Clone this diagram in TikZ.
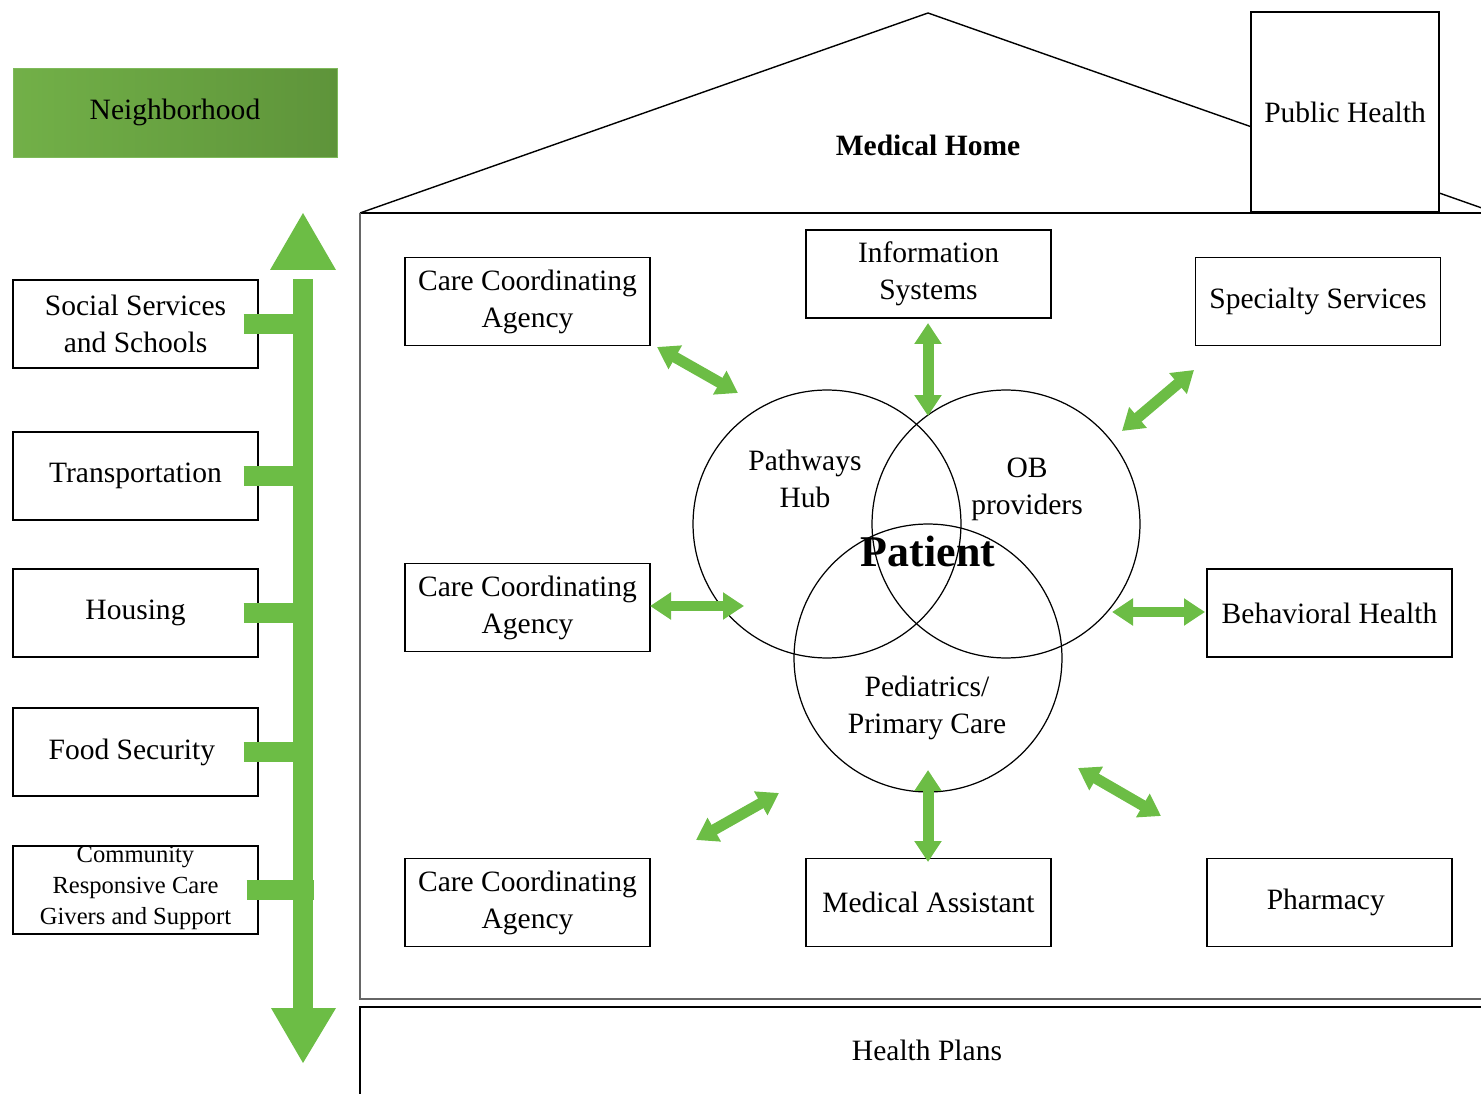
\documentclass[tikz,border=0pt]{standalone}
\usepackage{fontspec}
\setmainfont{Liberation Serif}
\usetikzlibrary{arrows.meta}
\begin{document}
\begin{tikzpicture}[x=0.02cm, y=-0.02cm, font=\fontsize{16.8}{21}\selectfont,
    box/.style={draw, fill=white, line width=0.8pt, minimum width=4.9cm, minimum height=1.76cm, align=center, inner sep=0pt},
    ring/.style={draw, circle, line width=0.7pt, minimum size=5.36cm, inner sep=0pt},
    biarrow/.style={draw=arrowgreen, line width=0.22cm, {Triangle[length=0.42cm,width=0.52cm]}-{Triangle[length=0.42cm,width=0.52cm]}}]
    \definecolor{arrowgreen}{RGB}{108,189,69}
    \definecolor{nbgreenlight}{RGB}{114,176,72}
    \definecolor{nbgreendark}{RGB}{94,148,58}
    \definecolor{nbgreenedge}{RGB}{126,186,90}

    \useasboundingbox (0,0) rectangle (1481,1094);
    \clip (0,0) rectangle (1481,1094);

    % house outline
    \draw[line width=0.8pt] (360,213) -- (928,13) -- (1496,213);
    \draw[line width=0.8pt] (1500,213) -- (360,213);
    \draw[gray!80!black, line width=1.3pt] (360,213) -- (360,999) -- (1500,999);
    \draw[line width=0.8pt] (360,1100) -- (360,1007) -- (1500,1007);

    \node[font=\fontsize{16.8}{21}\selectfont\bfseries] (home) at (928,145) {Medical Home};
    \node (plans) at (927,1050) {Health Plans};
    \node[box, minimum width=3.76cm, minimum height=4cm] (pubhealth) at (1345,112) {Public Health};

    \node[draw=nbgreenedge, left color=nbgreenlight, right color=nbgreendark,
      minimum width=6.48cm, minimum height=1.78cm] (hood) at (175,112.5) {Neighborhood};

    % community column
    \foreach \n/\y/\txt in {
      social/324/{Social Services\\and Schools},
      transport/476/Transportation,
      housing/613/Housing,
      food/752/Food Security
    }{
      \node[box] (\n) at (135.5,\y) {\txt};
      \draw[arrowgreen, line width=0.4cm] ([xshift=-0.3cm]\n.east) -- ([xshift=0.7cm]\n.east);
    }
    \node[box] (community) at (135.5,890) {};
    \node[align=center, font=\fontsize{14}{17.5}\selectfont] (communitytxt) at (135.5,888)
      {Community\\Responsive Care\\Givers and Support};
    \draw[arrowgreen, line width=0.4cm] ([xshift=-0.24cm]community.east) -- ([xshift=1.1cm]community.east);

    \fill[arrowgreen] (293,279) rectangle (313,1008);
    \fill[arrowgreen] (270,270) -- (303,213) -- (336,270) -- cycle;
    \fill[arrowgreen] (271,1008) -- (303,1063) -- (336,1008) -- cycle;

    % care team boxes
    \foreach \n/\x/\y/\txt in {
      cca1/527.5/301.5/{Care Coordinating\\Agency},
      info/928.5/274/{Information\\Systems},
      specialty/1318/301.5/Specialty Services,
      cca2/527.5/607.5/{Care Coordinating\\Agency},
      behavioral/1329.5/613/Behavioral Health,
      cca3/527.5/902.5/{Care Coordinating\\Agency},
      medasst/928.5/902.5/Medical Assistant,
      pharmacy/1329.5/902.5/Pharmacy
    }{
      \node[box] (\n) at (\x,\y) {\txt};
    }

    % venn of the patient
    \node[ring] (hub) at (827,524) {};
    \node[ring] (ob) at (1006,524) {};
    \node[ring] (peds) at (928,658) {};
    \node[align=center] (hubtxt) at (805,479) {Pathways\\Hub};
    \node[align=center] (obtxt) at (1027,489) {OB\\providers};
    \node[align=center] (pedstxt) at (927,708) {Pediatrics/\\Primary Care};
    \node[font=\fontsize{25}{30}\selectfont\bfseries] (patient) at (928,551) {Patient};

    % links
    \foreach \n/\xa/\ya/\xb/\yb in {
      cca1/657/347/738/393,
      info/928/323/928/416,
      specialty/1122/431/1194/370,
      cca2/650/606/744/606,
      behavioral/1112/612/1205/612,
      cca3/696/840/779/793,
      medasst/928/770/928/862,
      pharmacy/1078/768/1161/816
    }{
      \coordinate (\n-a) at (\xa,\ya);
      \coordinate (\n-b) at (\xb,\yb);
      \draw[biarrow] (\n-a) -- (\n-b);
    }
  \end{tikzpicture}
\end{document}
